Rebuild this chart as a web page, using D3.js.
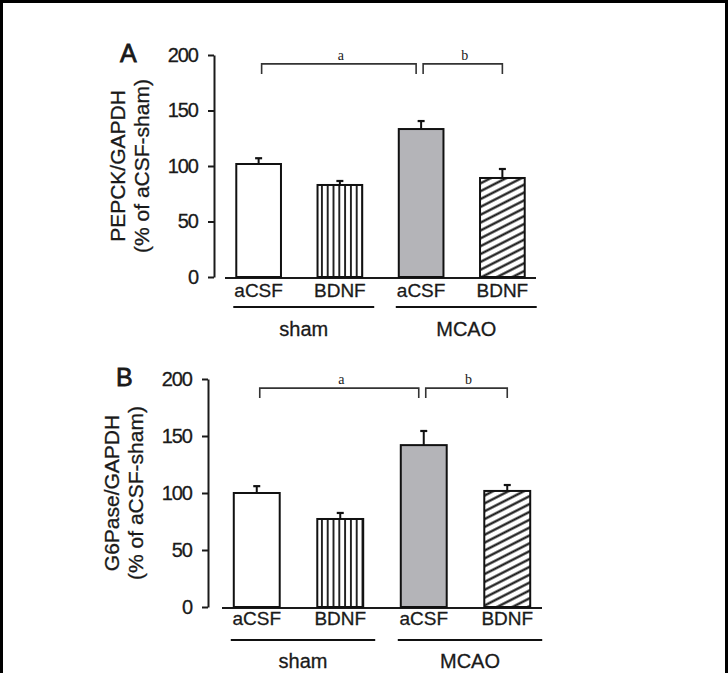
<!DOCTYPE html>
<html>
<head>
<meta charset="utf-8">
<script src="https://cdn.jsdelivr.net/npm/d3@7"></script>
<style>
  body { margin: 0; background: #fff; }
  svg text { font-family: "Liberation Sans", Arial, sans-serif; fill: #1a1a1a; stroke: #1a1a1a; stroke-width: 0.3; }
  .axis path, .axis line { stroke: #1a1a1a; stroke-width: 2; }
  .axis text { font-size: 20px; letter-spacing: -1px; fill: #1a1a1a; }
</style>
</head>
<body>
<div id="chart"></div>
<script>
// data
const categories = ["aCSF", "BDNF", "aCSF", "BDNF"];
const groups = ["sham", "MCAO"];
const groupOf = [0, 0, 1, 1];
const yTicks = [0, 50, 100, 150, 200];

const pepckMeans = [101.8, 82.9, 133.3, 89.2];
const pepckErrors = [5.2, 3.6, 7.2, 8.1];
const g6paseMeans = [100, 77.2, 142, 101.8];
const g6paseErrors = [6, 5.3, 12.4, 5.2];

const bracketLabels = ["a", "b"];
const bracketFrom = [0, 2];
const bracketTo = [2, 3];
const bracketValue = 192;

const fills = ["#fff", "url(#vstripe)", "#b4b4b8", "url(#hatch)"];

const panels = [
    {letter: "A", title: ["PEPCK/GAPDH", "(% of aCSF-sham)"], means: pepckMeans, errors: pepckErrors,
     axisX: 214, yRange: [277, 55], xRange: [218, 543], letterPos: [120, 62],
     catY: 297, groupLineY: 307, groupLabelY: 336},
    {letter: "B", title: ["G6Pase/GAPDH", "(% of aCSF-sham)"], means: g6paseMeans, errors: g6paseErrors,
     axisX: 208, yRange: [607, 379], xRange: [215, 549], letterPos: [116, 386],
     catY: 625, groupLineY: 640, groupLabelY: 668}
];

const W = 728, H = 673;
const svg = d3.select("#chart").append("svg")
    .attr("width", W)
    .attr("height", H);

// fill patterns
const defs = svg.append("defs");
const vs = defs.append("pattern")
    .attr("id", "vstripe")
    .attr("patternUnits", "userSpaceOnUse")
    .attr("width", 5.8).attr("height", 10);
vs.append("rect").attr("width", 5.8).attr("height", 10).attr("fill", "#fff");
vs.append("line").attr("x1", 2.9).attr("x2", 2.9).attr("y1", 0).attr("y2", 10)
    .attr("stroke", "#111").attr("stroke-width", 1.8);

const ht = defs.append("pattern")
    .attr("id", "hatch")
    .attr("patternUnits", "userSpaceOnUse")
    .attr("width", 10).attr("height", 7)
    .attr("patternTransform", "rotate(-27)");
ht.append("rect").attr("width", 10).attr("height", 7).attr("fill", "#fff");
ht.append("line").attr("x1", 0).attr("x2", 10).attr("y1", 3.5).attr("y2", 3.5)
    .attr("stroke", "#111").attr("stroke-width", 2.2);

// frame (top, left, right edges)
svg.append("rect").attr("x", 0).attr("y", 0).attr("width", W).attr("height", 3).attr("fill", "#000");
svg.append("rect").attr("x", 0).attr("y", 0).attr("width", 3).attr("height", H).attr("fill", "#000");
svg.append("rect").attr("x", W - 3).attr("y", 0).attr("width", 3).attr("height", H).attr("fill", "#000");

function draw_panel(p) {
    const g = svg.append("g");

    const y = d3.scaleLinear().domain([0, 200]).range(p.yRange);
    const x = d3.scaleBand()
        .domain(d3.range(categories.length))
        .range(p.xRange)
        .paddingInner(0.45)
        .paddingOuter(0.225);
    const bw = x.bandwidth();
    const cx = i => x(i) + bw / 2;

    // y axis
    g.append("g")
        .attr("class", "axis")
        .attr("transform", `translate(${p.axisX}, 0)`)
        .call(d3.axisLeft(y).tickValues(yTicks).tickSize(6).tickSizeOuter(0).tickPadding(10));

    // x baseline
    g.append("line")
        .attr("x1", p.xRange[0] + 7).attr("x2", p.xRange[1] - 7)
        .attr("y1", y(0) + 1).attr("y2", y(0) + 1)
        .attr("stroke", "#1a1a1a").attr("stroke-width", 2);

    // y title
    const mid = (p.yRange[0] + p.yRange[1]) / 2;
    p.title.forEach((t, k) => {
        g.append("text")
            .attr("transform", `translate(${p.axisX - 89 + k * 24}, ${mid}) rotate(-90)`)
            .attr("text-anchor", "middle")
            .style("font-size", "21px")
            .text(t);
    });

    // panel letter
    g.append("text")
        .attr("x", p.letterPos[0]).attr("y", p.letterPos[1])
        .style("font-size", "25px")
        .style("stroke-width", 0.8)
        .text(p.letter);

    // error bars
    p.means.forEach((m, i) => {
        g.append("line")
            .attr("x1", cx(i)).attr("x2", cx(i))
            .attr("y1", y(m)).attr("y2", y(m + p.errors[i]))
            .attr("stroke", "#111").attr("stroke-width", 2);
        g.append("line")
            .attr("x1", cx(i) - 3.5).attr("x2", cx(i) + 3.5)
            .attr("y1", y(m + p.errors[i])).attr("y2", y(m + p.errors[i]))
            .attr("stroke", "#111").attr("stroke-width", 2.2);
    });

    // bars
    g.selectAll("rect.bar")
        .data(p.means)
        .enter().append("rect")
        .attr("class", "bar")
        .attr("x", (d, i) => x(i))
        .attr("y", d => y(d))
        .attr("width", bw)
        .attr("height", d => y(0) - y(d))
        .attr("fill", (d, i) => fills[i])
        .attr("stroke", "#111")
        .attr("stroke-width", 2);

    // category labels
    categories.forEach((c, i) => {
        g.append("text")
            .attr("x", cx(i)).attr("y", p.catY)
            .attr("text-anchor", "middle")
            .style("font-size", "19px")
            .text(c);
    });

    // group lines and labels
    groups.forEach((gr, j) => {
        const idx = d3.range(categories.length).filter(i => groupOf[i] === j);
        const x1 = x(idx[0]) - 3, x2 = x(idx[idx.length - 1]) + bw + 12;
        g.append("line")
            .attr("x1", x1).attr("x2", x2)
            .attr("y1", p.groupLineY).attr("y2", p.groupLineY)
            .attr("stroke", "#111").attr("stroke-width", 2);
        g.append("text")
            .attr("x", (x1 + x2) / 2).attr("y", p.groupLabelY)
            .attr("text-anchor", "middle")
            .style("font-size", "20px")
            .text(gr);
    });

    // significance brackets
    const by = y(bracketValue);
    bracketLabels.forEach((lab, k) => {
        const x1 = cx(bracketFrom[k]) + (k === 0 ? 3 : 2);
        const x2 = cx(bracketTo[k]) - (k === 0 ? 5 : 0);
        g.append("path")
            .attr("d", `M${x1},${by + 10}V${by}H${x2}V${by + 10}`)
            .attr("fill", "none")
            .attr("stroke", "#333")
            .attr("stroke-width", 1.6);
        g.append("text")
            .attr("x", (x1 + x2) / 2 + 2).attr("y", by - 4)
            .attr("text-anchor", "middle")
            .style("font-family", "'Liberation Serif', serif")
            .style("font-size", "14px")
            .style("stroke-width", 0)
            .text(lab);
    });
}

panels.forEach(draw_panel);
</script>
</body>
</html>
